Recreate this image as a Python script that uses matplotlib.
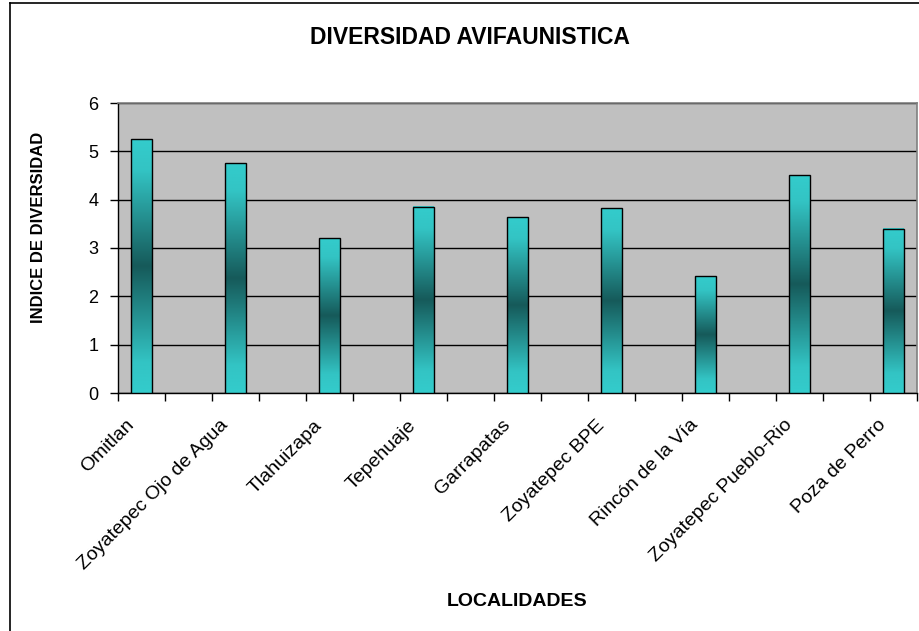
import numpy as np
import matplotlib
matplotlib.use("Agg")
import matplotlib.pyplot as plt
from matplotlib.colors import LinearSegmentedColormap
from matplotlib.lines import Line2D
from matplotlib.transforms import ScaledTranslation

plt.rcParams['font.family'] = ['Liberation Sans', 'DejaVu Sans']

title = "DIVERSIDAD AVIFAUNISTICA"
xlabel = "LOCALIDADES"
ylabel = "INDICE DE DIVERSIDAD"
categories = ["Omitlan", "Zoyatepec Ojo de Agua", "Tlahuizapa", "Tepehuaje",
              "Garrapatas", "Zoyatepec BPE", "Rincón de la Vía",
              "Zoyatepec Pueblo-Rio", "Poza de Perro"]
values = [5.25, 4.75, 3.2, 3.85, 3.64, 3.82, 2.42, 4.51, 3.4]
yticks = [0, 1, 2, 3, 4, 5, 6]

W, H = 919, 631
fig = plt.figure(figsize=(W / 100, H / 100), dpi=100)
ax = fig.add_axes([118 / W, 1 - 393 / H, (917 - 118) / W, (393 - 103) / H])
ax.set_facecolor("#C0C0C0")

n = len(categories)
nslots = 2 * n - 1
xpos = np.arange(n) * 2

cmap = LinearSegmentedColormap.from_list(
    "grad", [(0.0, "#33CCCC"), (0.12, "#33C4C4"), (0.5, "#165A5A"),
             (0.88, "#33C4C4"), (1.0, "#33CCCC")])
grad = np.linspace(0, 1, 256).reshape(-1, 1)
bw = 0.43
for x, v in zip(xpos, values):
    ax.imshow(grad, cmap=cmap, aspect="auto", origin="lower",
              extent=[x - bw / 2, x + bw / 2, 0, v], zorder=3,
              interpolation="bilinear")
ax.bar(xpos, values, width=bw, facecolor="none", edgecolor="black",
       linewidth=1.0, zorder=4)
ax.set_xlim(-0.5, nslots - 0.5)
ax.set_ylim(0, 6)

ax.set_yticks(yticks)
ax.set_yticklabels([str(t) for t in yticks], fontsize=13)
ax.yaxis.grid(True, color="black", linewidth=1.0, zorder=1)
ax.set_axisbelow(True)
ax.tick_params(axis="y", direction="out", length=6, width=1, pad=8)

ax.set_xticks(xpos)
ax.set_xticklabels(categories, rotation=45, ha="right", va="top",
                   rotation_mode="anchor", fontsize=14)
ax.tick_params(axis="x", which="major", length=0, pad=17)
offset = ScaledTranslation(-16 / 100, 0, fig.dpi_scale_trans)
for lbl in ax.get_xticklabels():
    lbl.set_transform(lbl.get_transform() + offset)
ax.set_xticks(np.arange(-0.5, nslots, 1.0), minor=True)
ax.tick_params(axis="x", which="minor", direction="out", length=6, width=1)

for s in ["top", "right"]:
    ax.spines[s].set_color("#808080")
    ax.spines[s].set_linewidth(1.2)
for s in ["left", "bottom"]:
    ax.spines[s].set_color("black")
    ax.spines[s].set_linewidth(1.0)

fig.text(470 / W, 1 - 38 / H, title, ha="center", va="center",
         fontsize=16.5, fontweight="bold")
fig.text(517 / W, 1 - 601 / H, xlabel, ha="center", va="center",
         fontsize=14, fontweight="bold")
fig.text(39 / W, 1 - 227 / H, ylabel, ha="center", va="center",
         rotation=90, fontsize=12, fontweight="bold")

fig.add_artist(Line2D([10 / W, 10 / W], [0, 1 - 3 / H], color="black",
                      linewidth=1.2, transform=fig.transFigure))
fig.add_artist(Line2D([10 / W, 1], [1 - 3 / H, 1 - 3 / H], color="black",
                      linewidth=1.2, transform=fig.transFigure))

fig.savefig("out.png", dpi=100)
